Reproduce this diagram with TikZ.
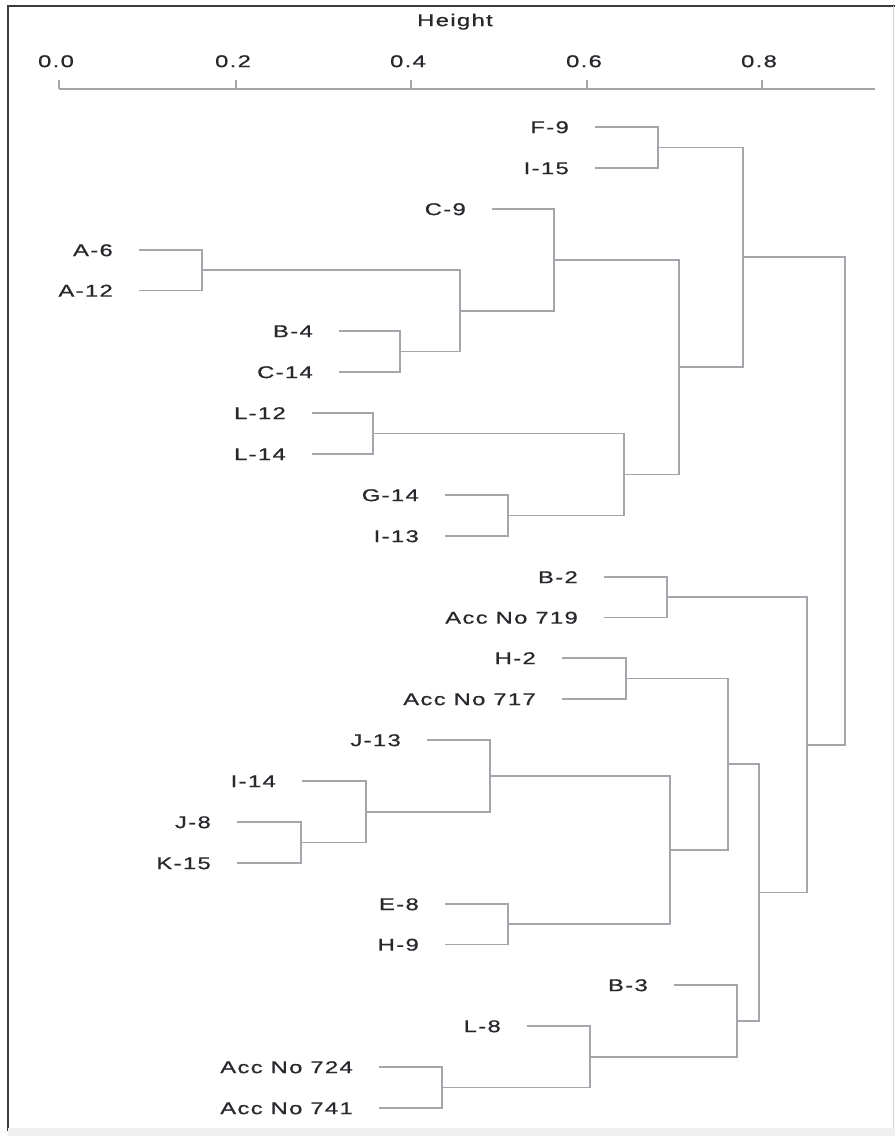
\documentclass[tikz,border=0pt]{standalone}
\usepackage{fontspec}
\setmainfont{Liberation Sans}[FakeStretch=1.4,LetterSpace=8,FakeBold=0.8]
\definecolor{ln}{RGB}{165,165,172}
\definecolor{txt}{RGB}{40,40,45}
\definecolor{frm}{RGB}{60,60,60}
\begin{document}
\begin{tikzpicture}[x=1pt,y=-1pt,
  lab/.style={anchor=east,inner sep=0pt,text height=12.2pt,text depth=0pt,font=\fontsize{17}{17}\selectfont,text=txt},
  ticklab/.style={inner sep=0pt,text height=12.2pt,text depth=0pt,font=\fontsize{17}{17}\selectfont,text=txt},
  br/.style={draw=ln,line width=1.5pt,line cap=rect},
  axisline/.style={draw=ln,line width=1.4pt},
  frame/.style={draw=frm,line width=2pt}]
\useasboundingbox (0,0) rectangle (895,1136);
\fill[white] (0,0) rectangle (895,1136);
% frame
\draw[frame] (8,1131) -- (8,6) -- (895,6);
\fill[gray!12] (8,1128) rectangle (895,1136);
\draw[draw=gray!35,line width=1pt] (893,6) -- (893,1128);
% axis
\node[ticklab] (hgt) at (455,20) {Height};
\coordinate (a0) at (59,89);
\coordinate (a1) at (875,89);
\draw[axisline] (a0) -- (a1);
\foreach \xx/\lb [count=\i] in {59/0.0,236/0.2,411/0.4,587/0.6,762/0.8}{
  \coordinate (t\i) at (\xx,89);
  \draw[axisline] (t\i) -- ++(0,-9);
  \node[ticklab] (tl\i) at (\xx-3,61) {\lb};
}
% leaves: name / label / start x / y
\foreach \nm/\lb/\sx/\yy in {
  F9/F-9/596/127, I15/I-15/596/168, C9/C-9/493/209,
  A6/A-6/140/250, A12/A-12/140/290.5, B4/B-4/340/331, C14/C-14/340/372,
  L12/L-12/313/413, L14/L-14/313/454, G14/G-14/446/495, I13/I-13/446/536,
  B2/B-2/605/577, A719/Acc No 719/605/617.5, H2/H-2/563/658, A717/Acc No 717/563/699,
  J13/J-13/428/740, I14/I-14/303/781, J8/J-8/238/822, K15/K-15/238/863,
  E8/E-8/446/904, H9/H-9/446/944.5, B3/B-3/675/985, L8/L-8/528/1026,
  A724/Acc No 724/380/1067, A741/Acc No 741/380/1108}{
  \coordinate (s\nm) at (\sx,\yy);
  \node[lab] (\nm) at (\sx-27,\yy) {\lb};
}
% joins
\coordinate (jFI) at (658,147.5);
\coordinate (jA) at (202,270);
\coordinate (jB) at (400,351.5);
\coordinate (jAB) at (460,311);
\coordinate (jC9) at (554,260);
\coordinate (jL) at (373,433.5);
\coordinate (jG) at (508,515.5);
\coordinate (jLG) at (624,474.5);
\coordinate (jCL) at (679,367);
\coordinate (jTop) at (743,257);
\coordinate (jB2) at (667,597);
\coordinate (jH2) at (626,678.5);
\coordinate (jJK) at (301,842.5);
\coordinate (jI14) at (366,812);
\coordinate (jJ13) at (490,776);
\coordinate (jEH) at (508,924);
\coordinate (jJE) at (670,850);
\coordinate (jHJ) at (728,764);
\coordinate (jAcc) at (442,1087.5);
\coordinate (jL8) at (590,1057);
\coordinate (jB3) at (737,1021);
\coordinate (jHB) at (759,892.5);
\coordinate (jB2all) at (807,745);
\coordinate (root) at (845,501);
\foreach \a/\j/\b in {
  sF9/jFI/sI15, sA6/jA/sA12, sB4/jB/sC14, jA/jAB/jB, sC9/jC9/jAB,
  sL12/jL/sL14, sG14/jG/sI13, jL/jLG/jG, jC9/jCL/jLG, jFI/jTop/jCL,
  sB2/jB2/sA719, sH2/jH2/sA717, sJ8/jJK/sK15, sI14/jI14/jJK, sJ13/jJ13/jI14,
  sE8/jEH/sH9, jJ13/jJE/jEH, jH2/jHJ/jJE, sA724/jAcc/sA741, sL8/jL8/jAcc,
  sB3/jB3/jL8, jHJ/jHB/jB3, jB2/jB2all/jHB, jTop/root/jB2all}{
  \draw[br] (\a) -| (\j) |- (\b);
}
\end{tikzpicture}
\end{document}
